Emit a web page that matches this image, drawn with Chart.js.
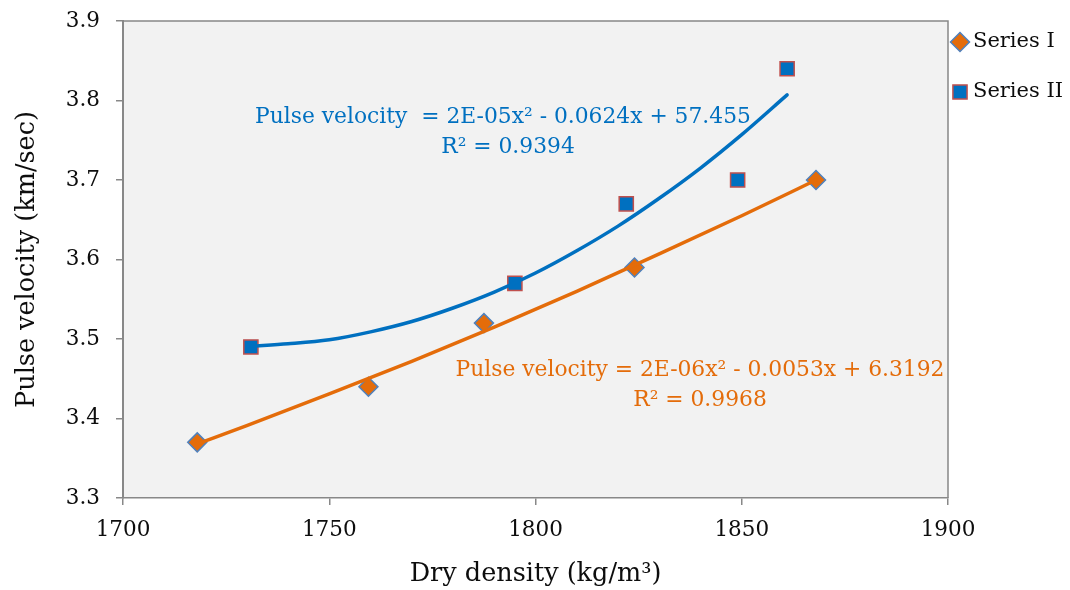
<!DOCTYPE html>
<html>
<head>
<meta charset="utf-8">
<script src="https://cdn.jsdelivr.net/npm/chart.js@4.4.1/dist/chart.umd.min.js"></script>
<style>
  html, body { margin: 0; padding: 0; background: #ffffff; }
  #wrap { width: 1070px; height: 590px; position: relative; }
</style>
</head>
<body>
<div id="wrap"><canvas id="c" width="1070" height="590"></canvas></div>
<script>
// ---- data ----
const seriesNames = ['Series I', 'Series II'];
const series1X = [1718, 1759.5, 1787.5, 1824, 1868];
const series1Y = [3.37, 3.44, 3.52, 3.59, 3.70];
const series2X = [1731, 1795, 1822, 1849, 1861];
const series2Y = [3.49, 3.57, 3.67, 3.70, 3.84];
// trendline points
const trend1X = [1718, 1730, 1750, 1770, 1790, 1810, 1830, 1850, 1868];
const trend1Y = [3.368, 3.391, 3.431, 3.472, 3.515, 3.560, 3.607, 3.655, 3.700];
const trend2X = [1731, 1740, 1750, 1760, 1770, 1780, 1790, 1800, 1810, 1820, 1830, 1840, 1850, 1861];
const trend2Y = [3.491, 3.494, 3.499, 3.509, 3.522, 3.539, 3.559, 3.583, 3.611, 3.642, 3.677, 3.715, 3.757, 3.807];
const xTicks = [1700, 1750, 1800, 1850, 1900];
const yTicks = [3.3, 3.4, 3.5, 3.6, 3.7, 3.8, 3.9];
const eq1Lines = ['Pulse velocity = 2E-06x\u00B2 - 0.0053x + 6.3192', 'R\u00B2 = 0.9968'];
const eq2Lines = ['Pulse velocity  = 2E-05x\u00B2 - 0.0624x + 57.455', 'R\u00B2 = 0.9394'];
const xTitle = 'Dry density (kg/m\u00B3)';
const yTitle = 'Pulse velocity (km/sec)';

const zip = (xs, ys) => xs.map((x, i) => ({x: x, y: ys[i]}));

const FONT = "'DejaVu Serif', 'Liberation Serif', serif";
const AXIS = '#888888';
const ORANGE = '#E46C0A';
const BLUE = '#0070C0';
const TEXT = '#0d0d0d';

const decor = {
  id: 'decor',
  beforeDraw(chart) {
    const {ctx, chartArea: a} = chart;
    ctx.save();
    ctx.fillStyle = '#f2f2f2';
    ctx.fillRect(a.left, a.top, a.right - a.left, a.bottom - a.top);
    ctx.restore();
  },
  afterDraw(chart) {
    const {ctx, chartArea: a} = chart;
    ctx.save();
    ctx.strokeStyle = AXIS;
    ctx.lineWidth = 1.5;
    ctx.beginPath();
    ctx.moveTo(a.left, a.top);
    ctx.lineTo(a.right, a.top);
    ctx.lineTo(a.right, a.bottom);
    ctx.stroke();

    // equation labels
    ctx.textAlign = 'center';
    ctx.textBaseline = 'middle';
    ctx.font = '21.8px ' + FONT;
    ctx.fillStyle = BLUE;
    ctx.fillText(eq2Lines[0], 503, 117);
    ctx.fillText(eq2Lines[1], 508, 147);
    ctx.fillStyle = ORANGE;
    ctx.fillText(eq1Lines[0], 700, 370);
    ctx.fillText(eq1Lines[1], 700, 400);

    // legend
    const items = chart.data.datasets.filter(d => d.legendItem);
    const ys = [42, 92];
    ctx.textAlign = 'left';
    ctx.font = '21px ' + FONT;
    items.forEach((d, i) => {
      ctx.fillStyle = d.backgroundColor;
      ctx.strokeStyle = d.borderColor;
      ctx.lineWidth = d.borderWidth;
      Chart.helpers.drawPoint(ctx, {pointStyle: d.pointStyle, radius: d.pointRadius, rotation: 0, borderWidth: d.borderWidth}, 960, ys[i]);
      ctx.fillStyle = TEXT;
      ctx.fillText(d.label, 973, ys[i]);
    });
    ctx.restore();
  }
};

new Chart(document.getElementById('c'), {
  type: 'scatter',
  data: {
    datasets: [
      {
        label: seriesNames[0], legendItem: true,
        data: zip(series1X, series1Y),
        pointStyle: 'rectRot', pointRadius: 9.5,
        backgroundColor: ORANGE, borderColor: '#4F81BD', borderWidth: 1.5,
        showLine: false, order: 3
      },
      {
        label: seriesNames[1], legendItem: true,
        data: zip(series2X, series2Y),
        pointStyle: 'rect', pointRadius: 10,
        backgroundColor: BLUE, borderColor: '#C0504D', borderWidth: 1.5,
        showLine: false, order: 4
      },
      {
        label: 'Trend I',
        data: zip(trend1X, trend1Y),
        showLine: true, pointRadius: 0, borderColor: ORANGE, backgroundColor: ORANGE,
        borderWidth: 3.5, cubicInterpolationMode: 'monotone', borderCapStyle: 'round', order: 1
      },
      {
        label: 'Trend II',
        data: zip(trend2X, trend2Y),
        showLine: true, pointRadius: 0, borderColor: BLUE, backgroundColor: BLUE,
        borderWidth: 3.5, cubicInterpolationMode: 'monotone', borderCapStyle: 'round', order: 2
      }
    ]
  },
  options: {
    responsive: false,
    animation: false,
    devicePixelRatio: 1,
    layout: { padding: { top: 21, right: 122, bottom: 0, left: 0 } },
    plugins: {
      legend: { display: false },
      tooltip: { enabled: false }
    },
    scales: {
      x: {
        type: 'linear', min: 1700, max: 1900,
        afterBuildTicks: (s) => { s.ticks = xTicks.map(v => ({value: v})); },
        afterFit: (s) => { s.height = 92; s.paddingLeft = 0; s.paddingRight = 0; },
        grid: { display: true, drawOnChartArea: false, drawTicks: true, tickLength: 7, color: AXIS, lineWidth: 1.5 },
        border: { display: true, color: AXIS, width: 1.5 },
        ticks: { color: TEXT, font: { family: FONT, size: 21.5 }, padding: 13, maxRotation: 0, callback: (v) => String(v) },
        title: { display: true, text: xTitle, color: TEXT, font: { family: FONT, size: 25.5 }, padding: { top: 11, bottom: 0 } }
      },
      y: {
        type: 'linear', min: 3.3, max: 3.9,
        afterBuildTicks: (s) => { s.ticks = yTicks.map(v => ({value: v})); },
        afterFit: (s) => { s.width = 123; s.paddingTop = 0; s.paddingBottom = 0; },
        grid: { display: true, drawOnChartArea: false, drawTicks: true, tickLength: 7, color: AXIS, lineWidth: 1.5 },
        border: { display: true, color: AXIS, width: 2 },
        ticks: { color: TEXT, font: { family: FONT, size: 21.5 }, padding: 16, callback: (v) => Number(v).toFixed(1) },
        title: { display: true, text: yTitle, color: TEXT, font: { family: FONT, size: 25.5 }, padding: { top: 12, bottom: 0 } }
      }
    }
  },
  plugins: [decor]
});
</script>
</body>
</html>
